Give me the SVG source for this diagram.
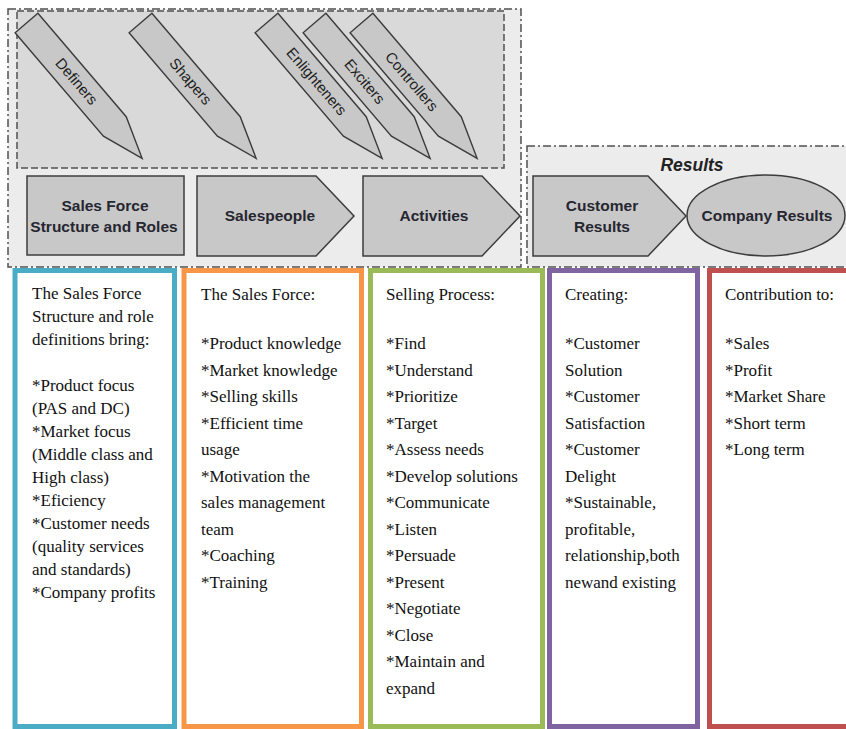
<svg xmlns="http://www.w3.org/2000/svg" width="846" height="729" viewBox="0 0 846 729">
<style>
.shape{fill:#c8c8c8;stroke:#3c3c3c;stroke-width:1.5}
.pen{fill:#c8c8c8;stroke:#3c3c3c;stroke-width:1.4}
.pl{font-family:"Liberation Sans",Arial,sans-serif;font-size:15px;fill:#1e1e1e;text-anchor:middle}
.lbl{font-family:"Liberation Sans",Arial,sans-serif;font-size:15.5px;font-weight:bold;fill:#262630;text-anchor:middle}
.col{font-family:"Liberation Serif","Times New Roman",serif;font-size:17px;fill:#111}
.dash{fill:none;stroke:#505050;stroke-width:1.5;stroke-dasharray:7 3}
.dashdot{fill:none;stroke:#505050;stroke-width:1.5;stroke-dasharray:8 3 2 3}
.box{fill:#ffffff;stroke-width:5}
</style>
<rect width="846" height="729" fill="#ffffff"/>
<g id="frame-top">
<rect x="8" y="9" width="513" height="258" fill="#ececec"/>
<rect x="17" y="11" width="487" height="157" fill="#d9d9d9"/>
<rect x="8" y="9" width="513" height="258" class="dashdot"/>
<rect x="17" y="11" width="487" height="157" class="dash"/>
</g>
<g id="frame-results">
<rect x="527" y="146" width="330" height="121" fill="#ececec"/>
<rect x="527" y="146" width="330" height="121" class="dashdot"/>
<text x="692" y="171" style="font-family:'Liberation Sans',Arial,sans-serif;font-size:17.5px;font-weight:bold;font-style:italic;fill:#222;text-anchor:middle">Results</text>
</g>
<g id="definers" transform="translate(26.5,23) rotate(49.5)">
<polygon class="pen" points="0,-15 136,-15 178,0 136,15 0,15"/>
<text class="pl" x="77" y="5">Definers</text>
</g>
<g id="shapers" transform="translate(140.5,23) rotate(49.5)">
<polygon class="pen" points="0,-15 136,-15 178,0 136,15 0,15"/>
<text class="pl" x="77" y="5">Shapers</text>
</g>
<g id="enlighteners" transform="translate(266.5,23) rotate(49.5)">
<polygon class="pen" points="0,-15 136,-15 178,0 136,15 0,15"/>
<text class="pl" x="77" y="5">Enlighteners</text>
</g>
<g id="exciters" transform="translate(314.5,23) rotate(49.5)">
<polygon class="pen" points="0,-15 136,-15 178,0 136,15 0,15"/>
<text class="pl" x="77" y="5">Exciters</text>
</g>
<g id="controllers" transform="translate(361.5,23) rotate(49.5)">
<polygon class="pen" points="0,-15 136,-15 178,0 136,15 0,15"/>
<text class="pl" x="77" y="5">Controllers</text>
</g>
<g id="structure">
<rect class="shape" x="27" y="176" width="157" height="79"/>
<text class="lbl" x="105" y="211">Sales Force</text>
<text class="lbl" x="104" y="232">Structure and Roles</text>
</g>
<g id="salespeople">
<polygon class="shape" points="197,176 316,176 354,216 316,256 197,256"/>
<text class="lbl" x="270" y="221">Salespeople</text>
</g>
<g id="activities">
<polygon class="shape" points="363,176 482,176 520,216 482,256 363,256"/>
<text class="lbl" x="434" y="221">Activities</text>
</g>
<g id="customer-results">
<polygon class="shape" points="533,176 648,176 686,216 648,256 533,256"/>
<text class="lbl" x="602" y="211">Customer</text>
<text class="lbl" x="602" y="232">Results</text>
</g>
<g id="company-results">
<ellipse class="shape" cx="766" cy="215.5" rx="79" ry="40.5"/>
<text class="lbl" x="767" y="221">Company Results</text>
</g>
<g id="connectors"></g>
<g id="col-structure">
<rect class="box" x="15" y="270.5" width="159.5" height="456" stroke="#4bacc6"/>
<text class="col" x="32">
<tspan x="32" y="299">The Sales Force</tspan>
<tspan x="32" y="322">Structure and role</tspan>
<tspan x="32" y="345">definitions bring:</tspan>
<tspan x="32" y="391">*Product focus</tspan>
<tspan x="32" y="414">(PAS and DC)</tspan>
<tspan x="32" y="437">*Market focus</tspan>
<tspan x="32" y="460">(Middle class and</tspan>
<tspan x="32" y="483">High class)</tspan>
<tspan x="32" y="506">*Eficiency</tspan>
<tspan x="32" y="529">*Customer needs</tspan>
<tspan x="32" y="552">(quality services</tspan>
<tspan x="32" y="575">and standards)</tspan>
<tspan x="32" y="598">*Company profits</tspan>
</text>
</g>
<g id="col-salesforce">
<rect class="box" x="184" y="270.5" width="177.5" height="456" stroke="#f79646"/>
<text class="col">
<tspan x="201" y="300">The Sales Force:</tspan>
<tspan x="201" y="349">*Product knowledge</tspan>
<tspan x="201" y="375.5">*Market knowledge</tspan>
<tspan x="201" y="402">*Selling skills</tspan>
<tspan x="201" y="428.5">*Efficient time</tspan>
<tspan x="201" y="455">usage</tspan>
<tspan x="201" y="481.5">*Motivation the</tspan>
<tspan x="201" y="508">sales management</tspan>
<tspan x="201" y="534.5">team</tspan>
<tspan x="201" y="561">*Coaching</tspan>
<tspan x="201" y="587.5">*Training</tspan>
</text>
</g>
<g id="col-selling">
<rect class="box" x="370.5" y="270.5" width="172" height="456" stroke="#9bbb59"/>
<text class="col">
<tspan x="386" y="300">Selling Process:</tspan>
<tspan x="386" y="349">*Find</tspan>
<tspan x="386" y="375.5">*Understand</tspan>
<tspan x="386" y="402">*Prioritize</tspan>
<tspan x="386" y="428.5">*Target</tspan>
<tspan x="386" y="455">*Assess needs</tspan>
<tspan x="386" y="481.5">*Develop solutions</tspan>
<tspan x="386" y="508">*Communicate</tspan>
<tspan x="386" y="534.5">*Listen</tspan>
<tspan x="386" y="561">*Persuade</tspan>
<tspan x="386" y="587.5">*Present</tspan>
<tspan x="386" y="614">*Negotiate</tspan>
<tspan x="386" y="640.5">*Close</tspan>
<tspan x="386" y="667">*Maintain and</tspan>
<tspan x="386" y="693.5">expand</tspan>
</text>
</g>
<g id="col-creating">
<rect class="box" x="549.5" y="270.5" width="148" height="456" stroke="#8064a2"/>
<text class="col">
<tspan x="565" y="300">Creating:</tspan>
<tspan x="565" y="349">*Customer</tspan>
<tspan x="565" y="375.5">Solution</tspan>
<tspan x="565" y="402">*Customer</tspan>
<tspan x="565" y="428.5">Satisfaction</tspan>
<tspan x="565" y="455">*Customer</tspan>
<tspan x="565" y="481.5">Delight</tspan>
<tspan x="565" y="508">*Sustainable,</tspan>
<tspan x="565" y="534.5">profitable,</tspan>
<tspan x="565" y="561">relationship,both</tspan>
<tspan x="565" y="587.5">newand existing</tspan>
</text>
</g>
<g id="col-contribution">
<rect class="box" x="709.5" y="270.5" width="160" height="456" stroke="#c0504d"/>
<text class="col">
<tspan x="725" y="300">Contribution to:</tspan>
<tspan x="725" y="349">*Sales</tspan>
<tspan x="725" y="375.5">*Profit</tspan>
<tspan x="725" y="402">*Market Share</tspan>
<tspan x="725" y="428.5">*Short term</tspan>
<tspan x="725" y="455">*Long term</tspan>
</text>
</g>
</svg>
